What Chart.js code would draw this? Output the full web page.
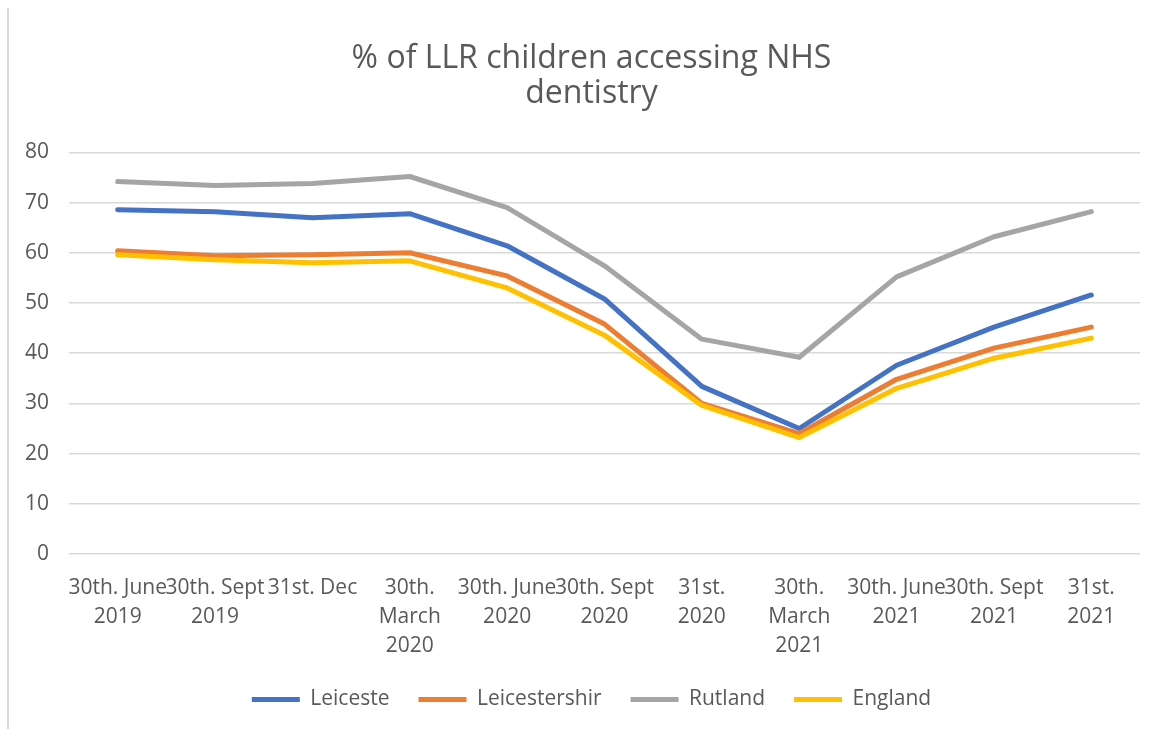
<!DOCTYPE html>
<html>
<head>
<meta charset="utf-8">
<script src="https://cdn.jsdelivr.net/npm/chart.js@4/dist/chart.umd.min.js"></script>
<style>
    html, body { margin: 0; padding: 0; background: #ffffff; }
    body { width: 1166px; height: 729px; overflow: hidden; position: relative; }
    #edge { position: absolute; left: 7px; top: 8px; width: 2px; height: 721px; background: #d9d9d9; }
    #wrap { position: absolute; left: 9px; top: 0; width: 1161px; height: 729px; }
</style>
</head>
<body>
<div id="edge"></div>
<div id="wrap"><canvas id="chart"></canvas></div>
<script>
const categories = [
    ["30th. June", "2019"],
    ["30th. Sept", "2019"],
    ["31st. Dec"],
    ["30th.", "March", "2020"],
    ["30th. June", "2020"],
    ["30th. Sept", "2020"],
    ["31st.", "2020"],
    ["30th.", "March", "2021"],
    ["30th. June", "2021"],
    ["30th. Sept", "2021"],
    ["31st.", "2021"]
];

const leicester = [68.6, 68.2, 67.0, 67.8, 61.4, 50.8, 33.4, 25.0, 37.6, 45.2, 51.6];
const leicestershire = [60.4, 59.4, 59.6, 60.0, 55.4, 45.8, 30.0, 24.0, 34.8, 41.0, 45.2];
const rutland = [74.2, 73.4, 73.8, 75.2, 69.0, 57.4, 42.8, 39.2, 55.2, 63.2, 68.2];
const england = [59.6, 58.6, 58.0, 58.4, 53.0, 43.6, 29.6, 23.2, 33.0, 39.0, 43.0];

const seriesNames = ["Leiceste", "Leicestershir", "Rutland", "England"];
const seriesColours = ["#4472C4", "#ED7D31", "#A5A5A5", "#FFC000"];

const FONT = "'Open Sans', 'Noto Sans', sans-serif";
const TEXT = "#595959";

function line(i, values) {
    return {
        label: seriesNames[i],
        data: values,
        borderColor: seriesColours[i],
        backgroundColor: seriesColours[i],
        borderWidth: 5,
        pointRadius: 0,
        pointHoverRadius: 0,
        tension: 0,
        borderJoinStyle: "round",
        borderCapStyle: "round",
        pointStyle: "line",
        order: 3 - i
    };
}

new Chart(document.getElementById("chart").getContext("2d"), {
    type: "line",
    data: {
        labels: categories,
        datasets: [
            line(0, leicester),
            line(1, leicestershire),
            line(2, rutland),
            line(3, england)
        ]
    },
    options: {
        responsive: true,
        maintainAspectRatio: false,
        animation: false,
        layout: {
            padding: { top: 41, left: 4, right: 0, bottom: 9 }
        },
        plugins: {
            title: {
                display: true,
                text: ["% of LLR children accessing NHS", "dentistry"],
                color: TEXT,
                font: { family: FONT, size: 32, weight: "normal", lineHeight: 1.1 },
                padding: { top: 0, bottom: 41 }
            },
            legend: {
                position: "bottom",
                labels: {
                    color: TEXT,
                    font: { family: FONT, size: 21 },
                    usePointStyle: true,
                    pointStyleWidth: 48,
                    padding: 29,
                    sort: (a, b) => a.datasetIndex - b.datasetIndex
                }
            },
            tooltip: { enabled: false }
        },
        scales: {
            x: {
                offset: true,
                afterFit: (scale) => { scale.height = 106; },
                grid: { display: false, drawTicks: false },
                border: { display: false },
                ticks: {
                    color: TEXT,
                    font: { family: FONT, size: 21, lineHeight: 1.38 },
                    autoSkip: false,
                    maxRotation: 0,
                    minRotation: 0,
                    padding: 20
                }
            },
            y: {
                min: 0,
                max: 80,
                afterFit: (scale) => { scale.width = 56; },
                grid: { color: "#d9d9d9", lineWidth: 1.5, drawTicks: false },
                border: { display: false },
                ticks: {
                    stepSize: 10,
                    color: TEXT,
                    font: { family: FONT, size: 21 },
                    padding: 20
                }
            },
            yRight: {
                type: "linear",
                position: "right",
                afterFit: (scale) => { scale.width = 30; },
                grid: { display: false, drawTicks: false },
                border: { display: false },
                ticks: { display: false }
            }
        }
    }
});
</script>
</body>
</html>
